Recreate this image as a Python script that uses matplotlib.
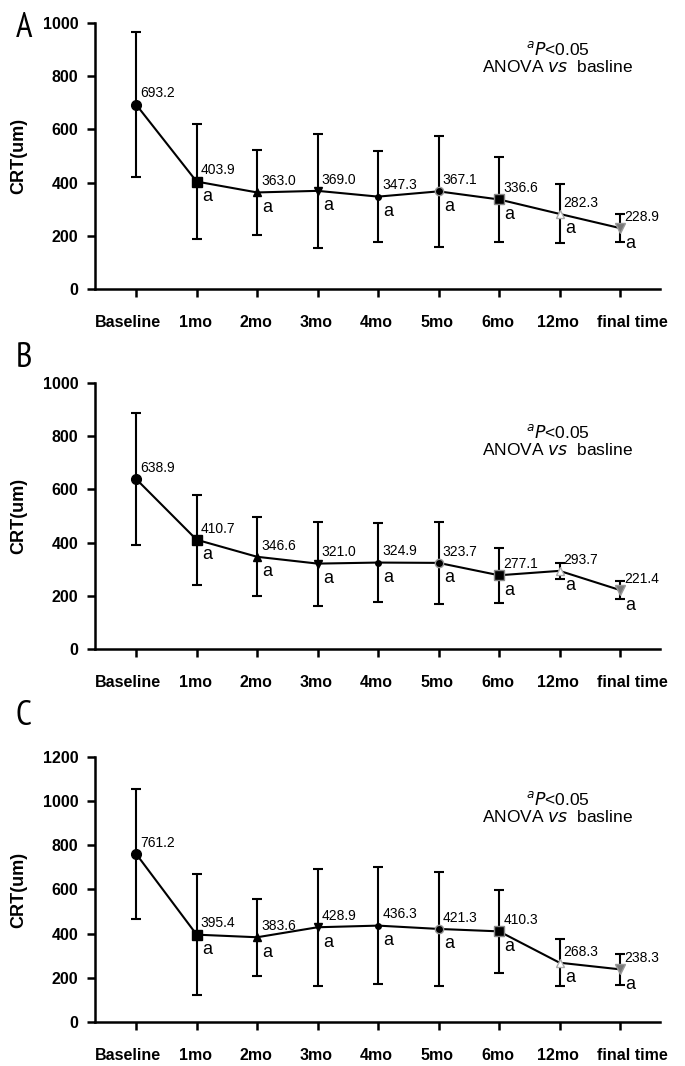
import matplotlib
matplotlib.use("Agg")
import matplotlib.pyplot as plt
from matplotlib.transforms import ScaledTranslation

NARROW = "PT Sans Narrow"
REG = "Liberation Sans"

categories = ["Baseline", "1mo", "2mo", "3mo", "4mo", "5mo", "6mo", "12mo", "final time"]

mean_A = [693.2, 403.9, 363.0, 369.0, 347.3, 367.1, 336.6, 282.3, 228.9]
sd_A = [272, 217, 160, 214, 171, 209, 159, 111, 54]

mean_B = [638.9, 410.7, 346.6, 321.0, 324.9, 323.7, 277.1, 293.7, 221.4]
sd_B = [247, 169, 149, 158, 147, 154, 103, 31, 33]

mean_C = [761.2, 395.4, 383.6, 428.9, 436.3, 421.3, 410.3, 268.3, 238.3]
sd_C = [296, 275, 174, 264, 264, 257, 188, 106, 70]

yticks_AB = [0, 200, 400, 600, 800, 1000]
yticks_C = [0, 200, 400, 600, 800, 1000, 1200]

markers = ["o", "s", "^", "v", "o", "o", "s", "^", "v"]
msizes = [7, 7, 6, 6, 4, 6, 7, 6, 7]
mfaces = ["black", "black", "black", "black", "black", "black", "black", "white", "#777777"]
medges = ["black", "black", "black", "black", "black", "#999999", "#888888", "#aaaaaa", "#999999"]
# horizontal shift (points) of each category label relative to its tick
label_shift = [-6, -1, -1, -1, -1, -1, -1, -1, 9]

fig = plt.figure(figsize=(6.85, 10.66), dpi=100)

L, W = 0.1387, 0.8248
panels = [
    ("A", mean_A, sd_A, yticks_AB, [L, 0.7289, W, 0.2495], 0.9653, (0.902, 0.836)),
    ("B", mean_B, sd_B, yticks_AB, [L, 0.3912, W, 0.2495], 0.6557, (0.816, 0.748)),
    ("C", mean_C, sd_C, yticks_C, [L, 0.0413, W, 0.2486], 0.3199, (0.842, 0.774)),
]

for letter, means, sds, yt, rect, ly, ty in panels:
    ax = fig.add_axes(rect)
    x = list(range(len(categories)))
    ax.errorbar(x, means, yerr=sds, fmt="none", ecolor="black", elinewidth=1.5,
                capsize=3.8, capthick=1.5, zorder=2)
    ax.plot(x, means, color="black", lw=1.5, zorder=3)
    for i in x:
        ax.plot(i, means[i], marker=markers[i], ms=msizes[i], mfc=mfaces[i],
                mec=medges[i], mew=1.0, zorder=4, ls="none")
    ymax = yt[-1]
    for i in x:
        ax.annotate(f"{means[i]:.1f}", (i, means[i]), xytext=(3, 3),
                    textcoords="offset points", ha="left", va="bottom",
                    fontsize=10, family=REG)
        if i > 0:
            ax.annotate("a", (i, means[i]), xytext=(4, -14),
                        textcoords="offset points", ha="left", va="baseline",
                        fontsize=13, family=REG)
    ax.set_xlim(-0.68, 8.66)
    ax.set_ylim(0, ymax)
    ax.set_yticks(yt)
    ax.set_xticks(x)
    ax.set_xticklabels(categories)
    for s in ["top", "right"]:
        ax.spines[s].set_visible(False)
    for s in ["left", "bottom"]:
        ax.spines[s].set_linewidth(1.8)
    ax.tick_params(axis="y", length=6, width=1.8, pad=6)
    ax.tick_params(axis="x", length=6, width=1.8, pad=13)
    for lab in ax.get_xticklabels() + ax.get_yticklabels():
        lab.set_fontfamily(REG)
        lab.set_fontweight("bold")
        lab.set_fontsize(11.5)
    for lab, dx in zip(ax.get_xticklabels(), label_shift):
        lab.set_transform(lab.get_transform() + ScaledTranslation(dx / 72, 0, fig.dpi_scale_trans))
    ax.set_ylabel("CRT(um)", fontsize=13, fontweight="bold", family=REG)
    ax.yaxis.set_label_coords(-0.12, 0.5)
    ax.text(0.819, ty[0], r"$^{a}\mathit{P}$<0.05",
            transform=ax.transAxes, ha="center", va="center", fontsize=12.5, family=REG)
    ax.text(0.819, ty[1], r"ANOVA $\mathit{vs}$  basline",
            transform=ax.transAxes, ha="center", va="center", fontsize=12.5, family=REG)
    fig.text(0.023, ly, letter, fontsize=25, family=NARROW, ha="left", va="baseline")

fig.savefig("out.png", dpi=100)
